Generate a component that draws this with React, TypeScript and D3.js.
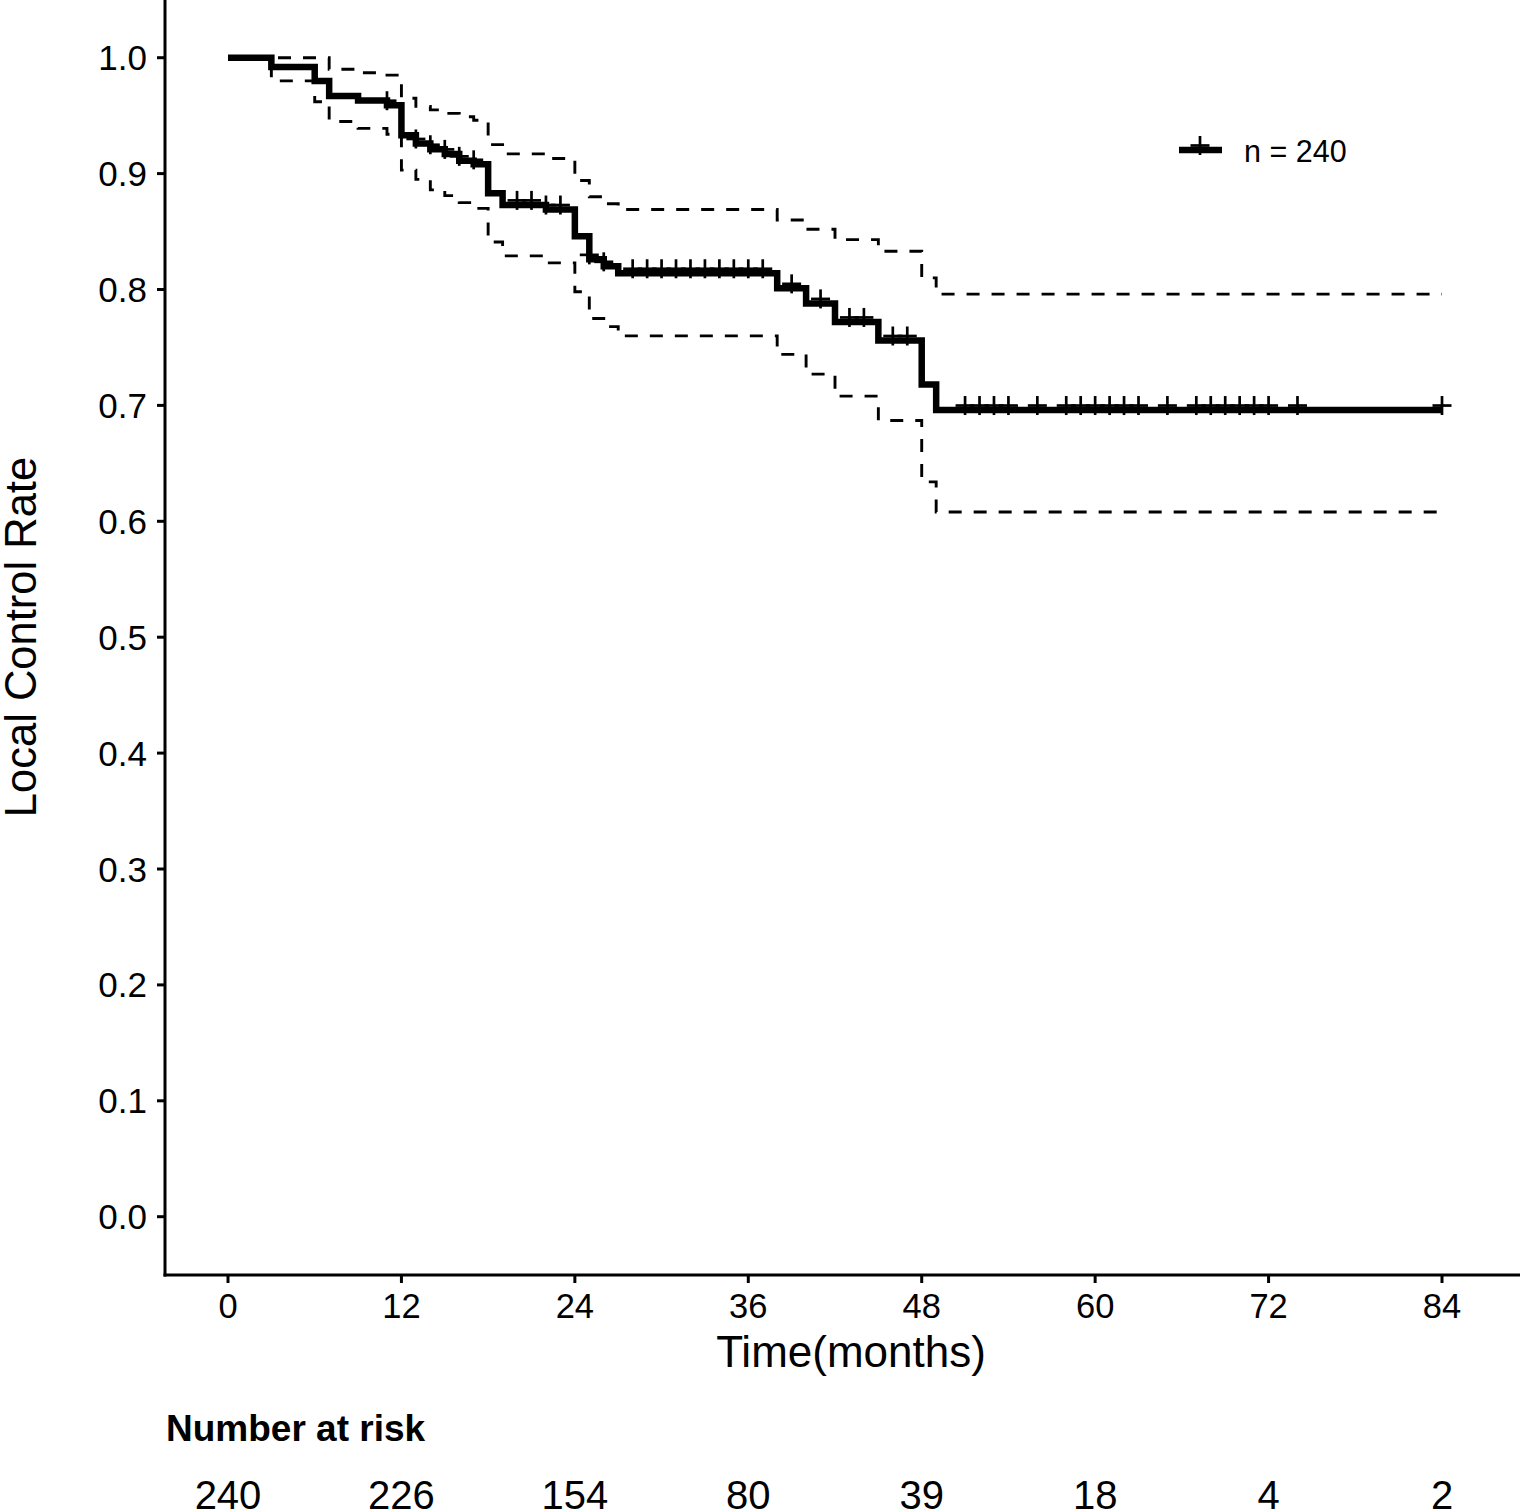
import React from "react";
import * as d3 from "d3";

// Kaplan-Meier estimate (time in months)
const eventTimes = [0, 3, 6, 7, 9, 11, 12, 13, 14, 15, 16, 17, 18, 19, 22, 24, 25, 26, 27, 38, 40, 42, 45, 48, 49];
const survival = [1.0, 0.992, 0.98, 0.967, 0.963, 0.959, 0.933, 0.926, 0.921, 0.917, 0.911, 0.908, 0.883, 0.873, 0.869, 0.846, 0.826, 0.82, 0.814, 0.801, 0.788, 0.772, 0.756, 0.718, 0.696];
const upperCI = [1.0, 1.0, 1.0, 0.99, 0.987, 0.985, 0.965, 0.958, 0.955, 0.952, 0.949, 0.946, 0.925, 0.917, 0.913, 0.894, 0.88, 0.874, 0.869, 0.86, 0.852, 0.843, 0.833, 0.81, 0.796];
const lowerCI = [1.0, 0.98, 0.962, 0.945, 0.939, 0.934, 0.903, 0.895, 0.886, 0.881, 0.875, 0.87, 0.841, 0.829, 0.823, 0.798, 0.775, 0.768, 0.76, 0.744, 0.727, 0.708, 0.687, 0.634, 0.608];
const censorTimes = [11, 13, 14, 15, 16, 17, 20, 21, 22, 23, 25, 26, 28, 29, 30, 31, 32, 33, 34, 35, 36, 37, 39, 41, 43, 44, 46, 47, 51, 52, 53, 54, 56, 58, 59, 60, 61, 62, 63, 65, 67, 68, 69, 70, 71, 72, 74, 84];
const endTime = 84;

const xTicks = [0, 12, 24, 36, 48, 60, 72, 84];
const yTicks = [0, 0.1, 0.2, 0.3, 0.4, 0.5, 0.6, 0.7, 0.8, 0.9, 1.0];
const numberAtRisk = [240, 226, 154, 80, 39, 18, 4, 2];
const legendLabel = "n = 240";
const xTitle = "Time(months)";
const yTitle = "Local Control Rate";
const riskTitle = "Number at risk";

const FONT = "'Liberation Sans', Arial, Helvetica, sans-serif";

function Censor({ cx, cy }: { cx: number; cy: number }) {
  const my = cy - 4.5;
  return (
    <g stroke="#000" strokeWidth={2.7}>
      <line x1={cx} x2={cx} y1={my - 9.5} y2={my + 9.5} />
      <line x1={cx - 9.5} x2={cx + 9.5} y1={my} y2={my} />
    </g>
  );
}

export default function App() {
  const W = 1535;
  const H = 1511;
  const axisX = 165;
  const axisY = 1275;
  const x = d3.scaleLinear().domain([0, 84]).range([228, 1442]);
  const y = d3.scaleLinear().domain([0, 1]).range([1216.7, 57.7]);

  const stepLine = d3
    .line<[number, number]>()
    .x((d) => x(d[0]))
    .y((d) => y(d[1]))
    .curve(d3.curveStepAfter);

  const series = (vals: number[]): [number, number][] => {
    const pts: [number, number][] = eventTimes.map((t, i) => [t, vals[i]]);
    pts.push([endTime, vals[vals.length - 1]]);
    return pts;
  };

  const survAt = (t: number) => {
    const i = d3.bisectRight(eventTimes, t) - 1;
    return survival[Math.max(0, i)];
  };

  const fmt = d3.format(".1f");

  return (
    <svg
      width={W}
      height={H}
      style={{ position: "absolute", left: 0, top: 0, background: "#fff" }}
      fontFamily={FONT}
    >
      <rect x={0} y={0} width={W} height={H} fill="#fff" />
      {/* confidence bands */}
      <path d={stepLine(series(upperCI)) || ""} fill="none" stroke="#000" strokeWidth={2.9} strokeDasharray="13,12" />
      <path d={stepLine(series(lowerCI)) || ""} fill="none" stroke="#000" strokeWidth={2.9} strokeDasharray="13,12" />
      {/* survival curve */}
      <path d={stepLine(series(survival)) || ""} fill="none" stroke="#000" strokeWidth={6.5} strokeLinejoin="miter" />
      {censorTimes.map((t, i) => (
        <Censor key={i} cx={x(t)} cy={y(survAt(t))} />
      ))}

      {/* axes */}
      <line x1={axisX} x2={axisX} y1={0} y2={axisY + 1.5} stroke="#000" strokeWidth={3} />
      <line x1={axisX - 1.5} x2={1520} y1={axisY} y2={axisY} stroke="#000" strokeWidth={3} />
      {yTicks.map((v) => (
        <g key={v}>
          <line x1={axisX - 8} x2={axisX} y1={y(v)} y2={y(v)} stroke="#000" strokeWidth={3} />
          <text x={147} y={y(v) + 12.5} textAnchor="end" fontSize={35} fill="#000">
            {fmt(v)}
          </text>
        </g>
      ))}
      {xTicks.map((v) => (
        <g key={v}>
          <line x1={x(v)} x2={x(v)} y1={axisY} y2={axisY + 8} stroke="#000" strokeWidth={3} />
          <text x={x(v)} y={1318} textAnchor="middle" fontSize={34.5} fill="#000">
            {v}
          </text>
        </g>
      ))}
      <text x={851} y={1367} textAnchor="middle" fontSize={44} fill="#000">
        {xTitle}
      </text>
      <text
        transform={`translate(36, ${637}) rotate(-90)`}
        textAnchor="middle"
        fontSize={43.5}
        fill="#000"
      >
        {yTitle}
      </text>

      {/* legend */}
      <line x1={1179} x2={1222} y1={150} y2={150} stroke="#000" strokeWidth={6.5} />
      <Censor cx={1200} cy={150} />
      <text x={1244} y={161.5} fontSize={30.5} fill="#000">
        {legendLabel}
      </text>

      {/* number at risk */}
      <text x={166} y={1441} fontSize={37} fontWeight="bold" fill="#000">
        {riskTitle}
      </text>
      {xTicks.map((t, i) => (
        <text key={t} x={x(t)} y={1509} textAnchor="middle" fontSize={40} fill="#000">
          {numberAtRisk[i]}
        </text>
      ))}
    </svg>
  );
}
